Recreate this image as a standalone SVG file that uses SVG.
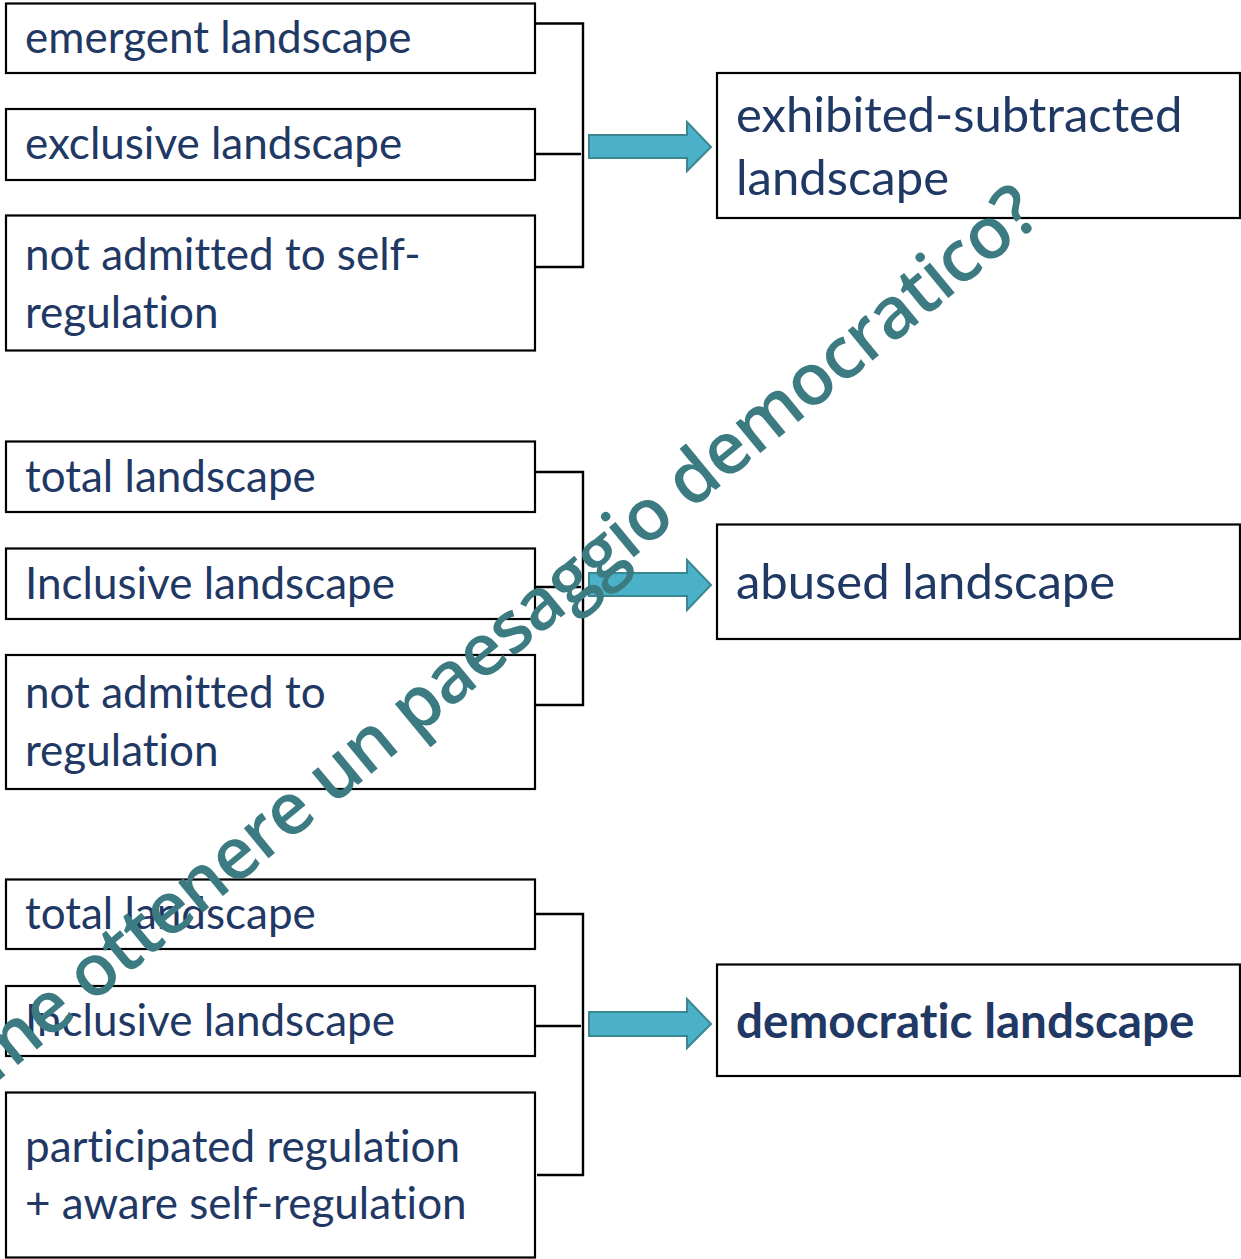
<svg xmlns="http://www.w3.org/2000/svg" width="1241" height="1259" viewBox="0 0 1241 1259">
<style>
text{font-variant-ligatures:none;font-feature-settings:"liga" 0}
.box{fill:#fff;stroke:#000;stroke-width:2.2}
.lbl{font-family:Lato,"Open Sans",sans-serif;font-size:44px;fill:#1F3864}
.rl{font-family:Lato,"Open Sans",sans-serif;font-size:49px;fill:#1F3864}
.rb{font-size:47.6px;font-weight:700}
.br{fill:none;stroke:#000;stroke-width:2.4}
.arr{fill:#4BB1C8;stroke:#3A8791;stroke-width:2}
.wm{font-family:"Open Sans",sans-serif;font-size:72px;font-weight:600;letter-spacing:-1px;fill:#3B7B81}
</style>
<rect width="1241" height="1259" fill="#fff"/>
<g id="connectors">
<path class="br" d="M535 23.5H583V267H535M535 154H581"/>
<path class="br" d="M535 472H583V705H535M535 587H581"/>
<path class="br" d="M535 914H583V1175H537M535 1026H581"/>
<polygon class="arr" points="589,135 687,135 687,122 711,147 687,171 687,158 589,158"/>
<polygon class="arr" points="589,573 687,573 687,560 711,585 687,610 687,596 589,596"/>
<polygon class="arr" points="589,1012 687,1012 687,999 711,1024 687,1048 687,1036 589,1036"/>
</g>
<g id="n1"><rect class="box" x="6" y="3.5" width="529" height="69.5"/><text class="lbl" x="25" y="53">emergent landscape</text></g>
<g id="n2"><rect class="box" x="6" y="109" width="529" height="71"/><text class="lbl" x="25" y="159">exclusive landscape</text></g>
<g id="n3"><rect class="box" x="6" y="215.5" width="529" height="135"/><text class="lbl" x="25" y="270">not admitted to self-</text><text class="lbl" x="25" y="328">regulation</text></g>
<g id="n4"><rect class="box" x="6" y="441.5" width="529" height="70.5"/><text class="lbl" x="25" y="492">total landscape</text></g>
<g id="n5"><rect class="box" x="6" y="548.5" width="529" height="70.5"/><text class="lbl" x="25" y="599">Inclusive landscape</text></g>
<g id="n6"><rect class="box" x="6" y="655" width="529" height="134"/><text class="lbl" x="25" y="708">not admitted to</text><text class="lbl" x="25" y="766">regulation</text></g>
<g id="n7"><rect class="box" x="6" y="879.5" width="529" height="69.5"/><text class="lbl" x="25" y="929">total landscape</text></g>
<g id="n8"><rect class="box" x="6" y="986" width="529" height="70"/><text class="lbl" x="25" y="1036">Inclusive landscape</text></g>
<g id="n9"><rect class="box" x="6" y="1092.5" width="529" height="165"/><text class="lbl" x="25" y="1162">participated regulation</text><text class="lbl" x="25" y="1219">+ aware self-regulation</text></g>
<g id="r1"><rect class="box" x="717" y="73" width="523" height="145"/><text class="rl" x="736" y="132">exhibited-subtracted</text><text class="rl" x="736" y="195">landscape</text></g>
<g id="r2"><rect class="box" x="717" y="524.5" width="523" height="114.5"/><text class="rl" x="736" y="599">abused landscape</text></g>
<g id="r3"><rect class="box" x="717" y="964.5" width="523" height="111.5"/><text class="rl rb" x="736" y="1038">democratic landscape</text></g>
<g id="watermark"><text class="wm" text-anchor="end" transform="translate(1043,220) rotate(-39.5)">Come ottenere un paesaggio democratico?</text></g>
</svg>
